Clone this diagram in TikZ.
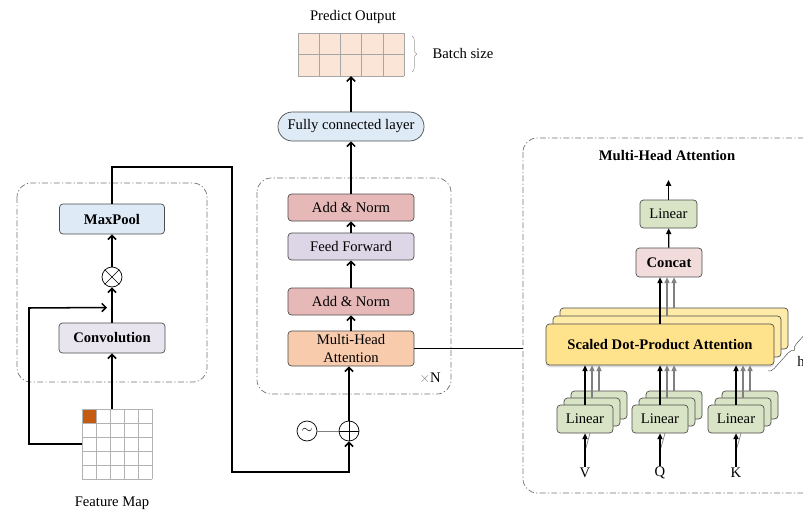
\documentclass[tikz,border=0pt]{standalone}
\usepackage{fontspec}
\setmainfont{Liberation Serif}
\usetikzlibrary{arrows.meta,calc,decorations.pathreplacing,shadows}
\definecolor{poolblue}{HTML}{DEEBF7}
\definecolor{convlilac}{HTML}{E8E5EF}
\definecolor{normrose}{HTML}{E6B9B8}
\definecolor{ffwdlilac}{HTML}{DCD6E7}
\definecolor{attnorange}{HTML}{F8CBAD}
\definecolor{lingreen}{HTML}{D8E4C5}
\definecolor{concatpink}{HTML}{F2DCDB}
\definecolor{sdpayellow}{HTML}{FFE38C}
\definecolor{sdpaback}{HTML}{FFEBA8}
\definecolor{cellpeach}{HTML}{FBE5D6}
\definecolor{cellorange}{HTML}{C55A11}

\begin{document}
\begin{tikzpicture}[x=0.3mm, y=-0.3mm,
    every node/.style={font=\fontsize{12.5}{15}\selectfont, inner sep=1pt},
    btxt/.style={font=\fontsize{12.5}{15}\selectfont\bfseries},
    blk/.style={draw=black!70, line width=0.6pt, rounded corners=3pt, minimum height=8.1mm, align=center},
    dashbox/.style={draw=black!55, line width=0.6pt, dash pattern=on 5pt off 2pt on 1pt off 2pt, rounded corners=12pt},
    op/.style={circle, draw, line width=0.6pt, minimum size=6mm, inner sep=0pt},
    arr/.style={-{Straight Barb[length=3.5pt,width=7pt]}, line width=1.3pt},
    tri/.style={-{Triangle[length=5pt,width=4.5pt]}, line width=1.1pt}
]
\clip (0,0) rectangle (803,520);

% convolution branch
\draw[dashbox] (17,183) rectangle (207,382);
\node[blk, btxt, fill=poolblue, minimum width=31.5mm, minimum height=9mm] (maxpool) at (112,219) {MaxPool};
\node[op] (mult) at (112,277) {};
\draw (mult.north west) -- (mult.south east) (mult.north east) -- (mult.south west);
\node[blk, btxt, fill=convlilac, minimum width=31.8mm, minimum height=9mm] (conv) at (112,338) {Convolution};
\node[minimum size=21mm, inner sep=0pt] (fmap) at (117,444) {};
\fill[cellorange] (82,409) rectangle (96,423);
\foreach \i in {0,...,5} {
    \draw[gray!60] (82+14*\i,409) -- (82+14*\i,479);
    \draw[gray!60] (82,409+14*\i) -- (152,409+14*\i);
}
\node (fmlabel) at (112,503) {Feature Map};
\draw[arr] (fmap.north -| conv) -- (conv);
\draw[arr] (conv) -- (mult);
\draw[arr] (mult) -- (maxpool);
\draw[arr] (fmap.west) -| (29,308) -- ($(mult)!0.5!(conv)+(-5,0)$);

% encoder stack
\draw[dashbox] (257,178) rectangle (451,394);
\node[blk, fill=normrose, minimum width=37.8mm] (norm1) at (351,207.5) {Add \& Norm};
\node[blk, fill=ffwdlilac, minimum width=37.8mm] (ffwd) at (351,246.5) {Feed Forward};
\node[blk, fill=normrose, minimum width=37.8mm] (norm2) at (351,301.5) {Add \& Norm};
\node[blk, fill=attnorange, minimum width=37.8mm, minimum height=10.5mm] (mha) at (351,348.5) {Multi-Head\\Attention};
\node (times) at (430,378) {{\color{gray}$\times$}N};
\node[op] (add) at (349,431) {};
\draw (add.north) -- (add.south) (add.west) -- (add.east);
\node[op] (pos) at (307,431) {$\sim$};
\draw[gray, line width=0.6pt] (pos) -- (add);
\draw[arr] (maxpool) |- (232,167) -- (232,472) -| (add);
\draw[arr] (add) -- (add |- mha.south);
\draw[arr] (mha) -- (norm2);
\draw[arr] (norm2) -- (ffwd);
\draw[arr] (ffwd) -- (norm1);

% output head
\node[blk, fill=poolblue, rounded corners=4.3mm, minimum width=43.8mm, minimum height=8.7mm] (fc) at (351,126.5) {Fully connected layer};
\node[fill=cellpeach, minimum width=31.8mm, minimum height=12.9mm, inner sep=0pt] (out) at (351,54.5) {};
\foreach \i in {0,...,5}
    \draw[black!35] (298+21.2*\i,33) -- (298+21.2*\i,76);
\foreach \j in {33,54.5,76}
    \draw[black!35] (298,\j) -- (404,\j);
\node (outlabel) at (353,17) {Predict Output};
\draw[black!40, decorate, decoration={brace, amplitude=4pt}] (412,36) -- (412,72);
\node (batch) at (463,53) {Batch size};
\draw[arr] (norm1) -- (fc);
\draw[arr] (fc) -- (out);

% multi-head attention detail
\draw[dashbox] (523,138) rectangle (840,493);
\coordinate (rightin) at (523,348.5);
\draw[line width=1.2pt] (mha) -- (rightin);
\node[btxt] (mhtitle) at (667,156) {Multi-Head Attention};
\node[blk, fill=lingreen, minimum width=17.1mm, minimum height=8.4mm] (linout) at (668.5,214) {Linear};
\coordinate (outtip) at (668.5,180);
\draw[tri] (linout) -- (outtip);
\node[blk, btxt, fill=concatpink, minimum width=19.8mm, minimum height=8.7mm] (concat) at (669,262.5) {Concat};
\draw[tri] (concat) -- (linout);
\foreach \n/\dx/\dy in {2/14/16, 1/7/8}
    \node[blk, fill=sdpaback, minimum width=68.4mm, minimum height=12.3mm] (sdpa\n) at (660+\dx,344.5-\dy) {};
\node[blk, btxt, fill=sdpayellow, drop shadow={opacity=0.25, shadow xshift=0pt, shadow yshift=-2pt}, minimum width=68.4mm, minimum height=12.3mm] (sdpa) at (660,344.5) {Scaled Dot-Product Attention};
\draw[tri] (sdpa.north) -- (sdpa.north |- concat.south);
\draw[tri, gray] (sdpa1.north) -- (sdpa1.north |- concat.south);
\draw[tri, gray] (sdpa2.north) -- (sdpa2.north |- concat.south);
\draw[black!70, decorate, decoration={brace, amplitude=5pt}] (812,322) -- (768,371);
\node (hlab) at (801,361) {h};
\foreach \n/\x in {V/585, Q/660, K/736} {
    \foreach \k/\d in {2/14, 1/7}
        \node[blk, fill=lingreen, minimum width=16.8mm, minimum height=8.4mm] (lin\n\k) at (\x+\d,419-\d) {};
    \node (in\n) at (\x,473) {\n};
    \draw[gray, line width=0.6pt] ($(in\n)+(0,-22)$) -- (lin\n1.south);
    \node[blk, fill=lingreen, minimum width=16.8mm, minimum height=8.4mm] (lin\n) at (\x,419) {Linear};
    \draw[tri] (in\n) -- (lin\n);
    \draw[tri] (lin\n) -- (lin\n |- sdpa.south);
    \draw[tri, gray] (lin\n1.north) -- (lin\n1.north |- sdpa.south);
    \draw[tri, gray] (lin\n2.north) -- (lin\n2.north |- sdpa.south);
}
\end{tikzpicture}
\end{document}
